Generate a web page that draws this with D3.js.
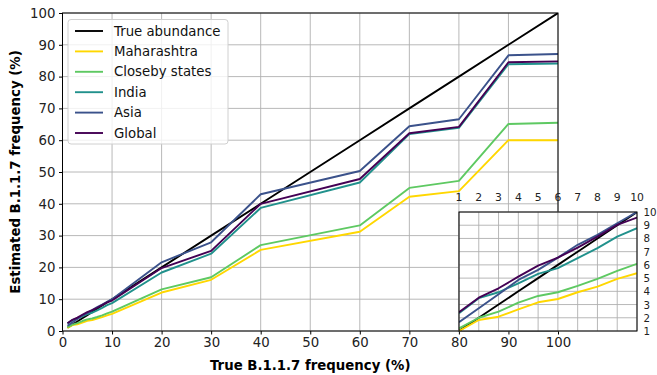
<!DOCTYPE html>
<html><head><meta charset="utf-8">
<script src="https://cdn.jsdelivr.net/npm/d3@7"></script>
<style>body{margin:0;background:#fff}svg{display:block;font-family:"DejaVu Sans",sans-serif}</style>
</head><body><svg id="c" width="657" height="375"></svg>
<script>
const xs = [1,2,3,4,5,6,7,8,9,10,20,30,40,60,70,80,90,100];
const trueAbundance = [1,2,3,4,5,6,7,8,9,10,20,30,40,60,70,80,90,100];
const maharashtra = [1.0,1.83,2.08,2.64,3.17,3.42,3.93,4.36,4.94,5.37,12.1,16.1,25.5,31.2,42.2,44.0,60.0,60.0];
const closeby = [1.2,2.0,2.46,3.14,3.65,3.93,4.41,4.94,5.55,6.08,13.1,16.9,27.0,33.2,45.0,47.2,65.1,65.5];
const india = [2.34,3.48,3.93,4.61,5.32,5.75,6.51,7.27,8.14,8.78,18.4,24.3,38.7,46.7,61.9,63.9,83.9,84.1];
const asia = [1.66,2.72,3.78,4.86,5.62,6.55,7.52,8.27,9.15,10.0,21.6,27.9,43.0,50.3,64.4,66.6,86.7,87.1];
const global = [2.42,3.52,4.23,5.11,5.95,6.55,7.31,8.14,9.03,9.58,19.8,25.2,40.0,47.8,62.2,64.2,84.5,84.8];
const seriesNames = ["True abundance","Maharashtra","Closeby states","India","Asia","Global"];
const seriesColors = ["#000000","#ffd700","#5ec962","#21918c","#3b528b","#440154"];
const mainTicks = [0,10,20,30,40,50,60,70,80,90,100];
const insetTicks = [1,2,3,4,5,6,7,8,9,10];
const xLabel = "True B.1.1.7 frequency (%)";
const yLabel = "Estimated B.1.1.7 frequency (%)";

const series = [trueAbundance, maharashtra, closeby, india, asia, global].map((v,i)=>({
  name: seriesNames[i], color: seriesColors[i], pts: xs.map((x,j)=>[x, v[j]])
}));
const LW = 1.9;

const svg = d3.select("#c");
const x = d3.scaleLinear().domain([0,100]).range([62.5,558]);
const y = d3.scaleLinear().domain([0,100]).range([331,13]);

// grid
const g = svg.append("g");
g.selectAll("line.vg").data(mainTicks).join("line")
  .attr("x1",d=>x(d)).attr("x2",d=>x(d)).attr("y1",y(0)).attr("y2",y(100))
  .attr("stroke","#b0b0b0").attr("stroke-width",0.9);
g.selectAll("line.hg").data(mainTicks).join("line")
  .attr("y1",d=>y(d)).attr("y2",d=>y(d)).attr("x1",x(0)).attr("x2",x(100))
  .attr("stroke","#b0b0b0").attr("stroke-width",0.9);

svg.append("defs").append("clipPath").attr("id","mclip").append("rect")
  .attr("x",x(0)).attr("y",y(100)).attr("width",x(100)-x(0)).attr("height",y(0)-y(100));

const line = d3.line().x(d=>x(d[0])).y(d=>y(d[1]));
svg.append("g").attr("clip-path","url(#mclip)").selectAll("path").data(series).join("path")
  .attr("d",d=>line(d.pts)).attr("fill","none").attr("stroke",d=>d.color).attr("stroke-width",LW)
  .attr("stroke-linejoin","round");

// axes
const xa = svg.append("g").attr("transform",`translate(0,${y(0)})`)
  .call(d3.axisBottom(x).tickValues(mainTicks).tickSize(3.5).tickPadding(3.5));
const ya = svg.append("g").attr("transform",`translate(${x(0)},0)`)
  .call(d3.axisLeft(y).tickValues(mainTicks).tickSize(3.5).tickPadding(3.5));
[xa,ya].forEach(a=>{a.select(".domain").remove();
  a.selectAll("text").attr("font-size",13.3).attr("fill","#222").attr("font-family","DejaVu Sans");
  a.selectAll("line").attr("stroke","#000");});
svg.append("rect").attr("x",x(0)).attr("y",y(100)).attr("width",x(100)-x(0)).attr("height",y(0)-y(100))
  .attr("fill","none").attr("stroke","#000").attr("stroke-width",1);

svg.append("text").attr("x",(x(0)+x(100))/2).attr("y",370).attr("text-anchor","middle")
  .attr("font-size",13.3).attr("font-weight","bold").text(xLabel);
svg.append("text").attr("transform",`translate(20,${(y(0)+y(100))/2}) rotate(-90)`).attr("text-anchor","middle")
  .attr("font-size",13.3).attr("font-weight","bold").text(yLabel);

// inset
const ix = d3.scaleLinear().domain([1,10]).range([459,637]);
const iy = d3.scaleLinear().domain([1,10]).range([331,212]);
const ig = svg.append("g");
ig.append("rect").attr("x",ix(1)).attr("y",iy(10)).attr("width",ix(10)-ix(1)).attr("height",iy(1)-iy(10)).attr("fill","#fff");
ig.selectAll("line.v").data(insetTicks).join("line")
  .attr("x1",d=>ix(d)).attr("x2",d=>ix(d)).attr("y1",iy(1)).attr("y2",iy(10))
  .attr("stroke","#b0b0b0").attr("stroke-width",0.9);
ig.selectAll("line.h").data(insetTicks).join("line")
  .attr("y1",d=>iy(d)).attr("y2",d=>iy(d)).attr("x1",ix(1)).attr("x2",ix(10))
  .attr("stroke","#b0b0b0").attr("stroke-width",0.9);
svg.select("defs").append("clipPath").attr("id","iclip").append("rect")
  .attr("x",ix(1)).attr("y",iy(10)).attr("width",ix(10)-ix(1)).attr("height",iy(1)-iy(10));
const iline = d3.line().x(d=>ix(d[0])).y(d=>iy(d[1]));
ig.append("g").attr("clip-path","url(#iclip)").selectAll("path").data(series).join("path")
  .attr("d",d=>iline(d.pts.filter(p=>p[0]<=10))).attr("fill","none").attr("stroke",d=>d.color).attr("stroke-width",LW)
  .attr("stroke-linejoin","round");
ig.append("rect").attr("x",ix(1)).attr("y",iy(10)).attr("width",ix(10)-ix(1)).attr("height",iy(1)-iy(10))
  .attr("fill","none").attr("stroke","#000").attr("stroke-width",1);
ig.selectAll("text.t").data(insetTicks).join("text")
  .attr("x",d=>ix(d)).attr("y",201).attr("text-anchor","middle").attr("font-size",10.8).attr("fill","#222").text(d=>d);
ig.selectAll("text.r").data(insetTicks).join("text")
  .attr("x",643.5).attr("y",d=>iy(d)+4).attr("text-anchor","start").attr("font-size",10.3).attr("fill","#222").text(d=>d);

// legend
const lg = svg.append("g");
lg.append("rect").attr("x",68).attr("y",19.5).attr("width",160).attr("height",124.5).attr("rx",3)
  .attr("fill","#fff").attr("fill-opacity",0.8).attr("stroke","#d0d0d0").attr("stroke-width",1);
const rows = lg.selectAll("g").data(series).join("g").attr("transform",(d,i)=>`translate(0,${31+i*20.4})`);
rows.append("line").attr("x1",75).attr("x2",103).attr("stroke",d=>d.color).attr("stroke-width",LW);
rows.append("text").attr("x",114).attr("y",4.6).attr("font-size",13.3).attr("fill","#111").text(d=>d.name);
</script></body></html>
